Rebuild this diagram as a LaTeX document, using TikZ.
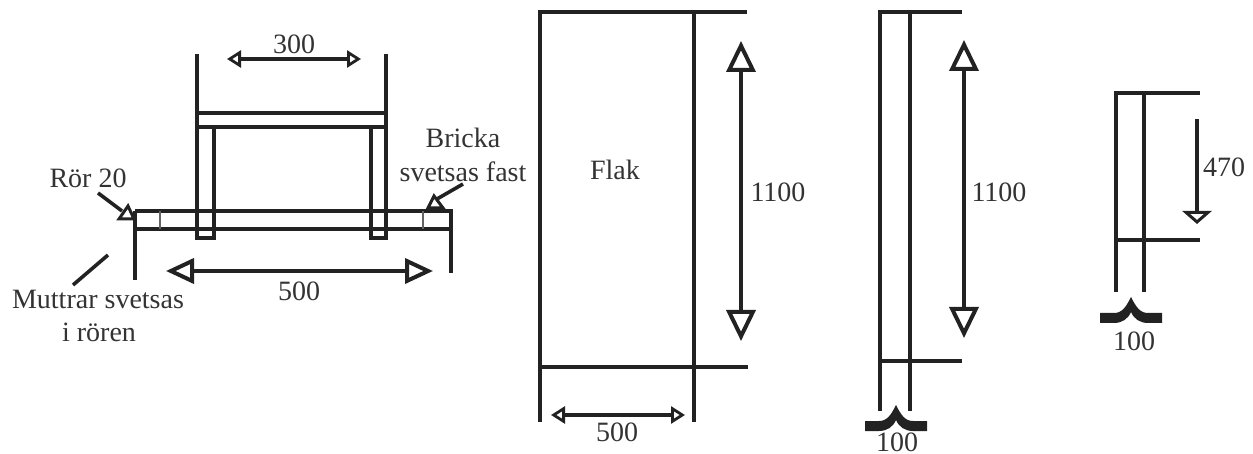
\documentclass[tikz,border=0pt]{standalone}
\usepackage{fontspec}
\setmainfont{Liberation Serif}
\usetikzlibrary{arrows.meta}
\definecolor{ink}{HTML}{222222}
\definecolor{txt}{HTML}{333333}
\tikzset{
  thick line/.style={draw=ink,line width=4.6pt},
  mid line/.style={draw=ink,line width=3.6pt},
  thin line/.style={draw=ink,line width=3.2pt},
  hair line/.style={draw=ink!70,line width=1.6pt},
  label text/.style={font=\fontsize{28}{32}\selectfont,text=txt,inner sep=0pt,align=center},
  small dim/.style={draw=ink,line width=3.2pt,{Triangle[open,fill=white,length=14pt,width=17pt,line width=2.8pt]}-{Triangle[open,fill=white,length=14pt,width=17pt,line width=2.8pt]}},
  big dim/.style={draw=ink,line width=4pt,{Triangle[open,fill=white,length=28pt,width=25pt,line width=4pt]}-{Triangle[open,fill=white,length=28pt,width=25pt,line width=4pt]}},
  tall dim/.style={draw=ink,line width=3.8pt,{Triangle[open,fill=white,length=31pt,width=29pt,line width=4pt]}-{Triangle[open,fill=white,length=31pt,width=29pt,line width=4pt]}},
  down dim/.style={draw=ink,line width=3.6pt,-{Triangle[open,fill=white,length=13pt,width=29pt,line width=3pt]}},
  pointer/.style={draw=ink,line width=3.6pt},
  head/.style={draw=ink,fill=white,line width=3pt,line join=miter},
  brace shape/.pic={\fill[ink] (-31,16) -- (-17,16) .. controls (-9,16) and (-5,10) .. (0,0)
     .. controls (5,10) and (9,16) .. (17,16) -- (31,16) -- (31,26) -- (17,26)
     .. controls (9,26) and (3,22) .. (0,15) .. controls (-3,22) and (-9,26) .. (-17,26)
     -- (-31,26) -- cycle;}
}
\begin{document}
\begin{tikzpicture}[x=1pt,y=-1pt]
\useasboundingbox (0,0) rectangle (1253,454);
% --- left figure
\draw[thick line] (197,54) -- (197,238) -- (214,238) -- (214,127);
\draw[thick line] (386,54) -- (386,238) -- (371,238) -- (371,127);
\draw[mid line] (196,113) -- (387,113);
\draw[thick line] (196,127) -- (387,127);
\draw[thin line] (135,211) -- (451,211) -- (451,229);
\draw[thin line] (135,211) -- (135,229);
\draw[thick line] (133,229) -- (453,229);
\draw[thick line] (135,229) -- (135,280);
\draw[thick line] (451,229) -- (451,273);
\draw[hair line] (160,211) -- (160,229);
\draw[hair line] (423,211) -- (423,229);
\coordinate (d300a) at (227,59); \coordinate (d300b) at (361,59);
\draw[small dim] (d300a) -- (d300b);
\coordinate (d500a) at (166,271); \coordinate (d500b) at (433,271);
\draw[big dim] (d500a) -- (d500b);
\node[label text] (t300) at (294,44) {300};
\node[label text] (t500) at (299,291) {500};
\node[label text] (tror) at (88,178) {Rör 20};
\node[label text] (tbricka) at (463,138) {Bricka};
\node[label text] (tfast) at (463,172) {svetsas fast};
\node[label text] (tmutt) at (98,299) {Muttrar svetsas};
\node[label text] (tiror) at (99,332) {i rören};
\coordinate (p1a) at (98,193); \coordinate (p1b) at (122,211);
\draw[pointer] (p1a) -- (p1b);
\draw[head] (128,206) -- (119,219) -- (134,219) -- cycle;
\coordinate (p2a) at (73,285); \coordinate (p2b) at (108,255);
\draw[pointer] (p2a) -- (p2b);
\coordinate (p3a) at (463,184); \coordinate (p3b) at (437,199);
\draw[pointer] (p3a) -- (p3b);
\draw[head] (434,196) -- (428,208) -- (443,208) -- cycle;
% --- Flak
\draw[thick line] (540,422) -- (540,12) -- (694,12) -- (694,422);
\draw[mid line] (694,12) -- (747,12);
\draw[mid line] (539,367) -- (748,367);
\node[label text] (tflak) at (615,170) {Flak};
\coordinate (d1a) at (741,41); \coordinate (d1b) at (741,341);
\draw[tall dim] (d1a) -- (d1b);
\node[label text] (t1100a) at (778,192) {1100};
\coordinate (d5a) at (551,415); \coordinate (d5b) at (685,415);
\draw[small dim] (d5a) -- (d5b);
\node[label text] (t500b) at (617,432) {500};
% --- third figure
\draw[thick line] (880,411) -- (880,12);
\draw[thick line] (910,411) -- (910,12);
\draw[mid line] (878,12) -- (962,12);
\draw[mid line] (880,361) -- (962,361);
\coordinate (d2a) at (964,40); \coordinate (d2b) at (964,338);
\draw[tall dim] (d2a) -- (d2b);
\node[label text] (t1100b) at (999,192) {1100};
\pic at (896,405) {brace shape};
\node[label text] (t100a) at (897,442) {100};
% --- fourth figure
\draw[mid line] (1116,93) -- (1116,240);
\draw[thick line] (1116,240) -- (1116,292);
\draw[thick line] (1144,93) -- (1144,292);
\draw[thick line] (1114,93) -- (1200,93);
\draw[mid line] (1114,240) -- (1200,240);
\coordinate (d3a) at (1197,119); \coordinate (d3b) at (1197,224);
\draw[down dim] (d3a) -- (d3b);
\node[label text] (t470) at (1224,167) {470};
\pic at (1131,297) {brace shape};
\node[label text] (t100b) at (1134,341) {100};
\end{tikzpicture}
\end{document}
